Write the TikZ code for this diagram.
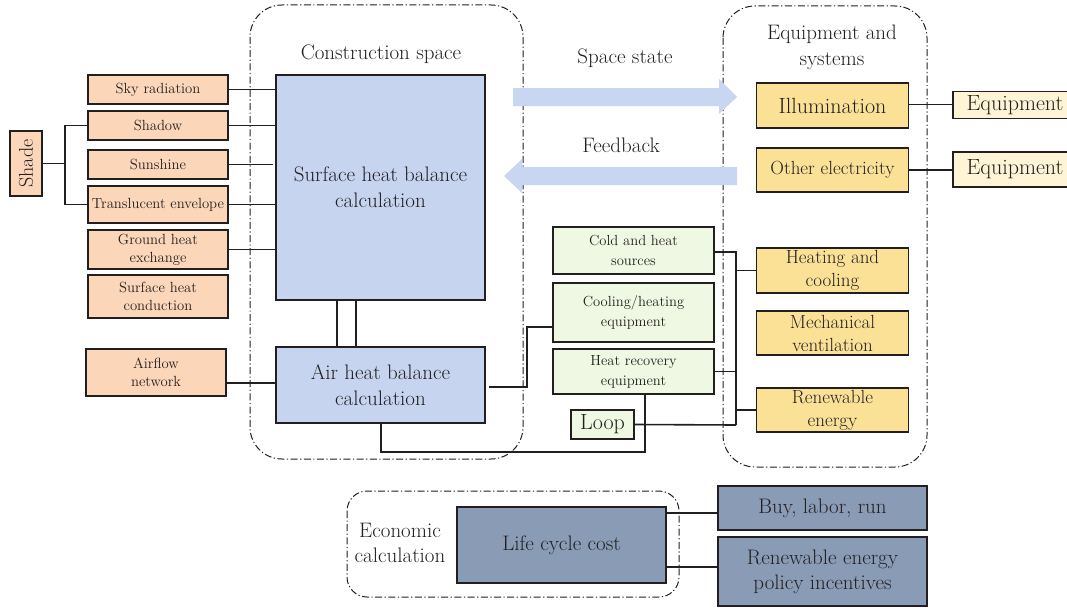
\documentclass[tikz,border=0pt]{standalone}
\usetikzlibrary{calc}
\definecolor{peach}{RGB}{252,214,184}
\definecolor{lblue}{RGB}{198,212,240}
\definecolor{arrblue}{RGB}{200,214,242}
\definecolor{gold}{RGB}{251,225,150}
\definecolor{cream}{RGB}{255,245,214}
\definecolor{lgreen}{RGB}{238,248,226}
\definecolor{slate}{RGB}{138,155,182}
\definecolor{edge}{RGB}{35,31,32}
\begin{document}
\begin{tikzpicture}[x=1pt,y=-1pt,
  box/.style={draw=edge,line width=1.3pt,inner sep=1pt,align=center,text=edge},
  pbox/.style={box,fill=peach,font=\fontsize{14.7}{18}\selectfont},
  bbox/.style={box,fill=lblue,font=\fontsize{21}{26}\selectfont},
  gbox/.style={box,fill=lgreen,font=\fontsize{14.6}{20}\selectfont},
  ybox/.style={box,fill=gold,font=\fontsize{19}{23}\selectfont},
  cbox/.style={box,fill=cream,font=\fontsize{22}{24}\selectfont},
  sbox/.style={box,fill=slate,font=\fontsize{21}{25}\selectfont},
  cont/.style={draw=edge,line width=1pt,dash pattern=on 7pt off 2.5pt on 1.2pt off 2.5pt,rounded corners=32pt},
  lbl/.style={font=\fontsize{21}{26}\selectfont,align=center,text=edge},
  wire/.style={draw=edge,line width=1.2pt},
  bigarrow/.style={fill=arrblue,draw=none}]
\useasboundingbox (0,0) rectangle (1067,610);
% containers
\draw[cont] (250,5) rectangle (523,459);
\draw[cont] (723,6) rectangle (927,467);
\draw[cont,rounded corners=20pt] (347,491) rectangle (679,597);
\node[lbl] (tcons) at (381,54) {Construction space};
\node[lbl] (tequip) at (832,47) {Equipment and\\systems};
\node[lbl,font=\fontsize{21}{25}\selectfont] (tecon) at (400,543) {Economic\\calculation};
\node[lbl] (tss) at (625,58) {Space state};
\node[lbl] (tfb) at (621,145) {Feedback};
% big arrows
\fill[bigarrow] (513,88) -- (719,88) -- (719,79) -- (737,97) -- (719,114) -- (719,106) -- (513,106) -- cycle;
\fill[bigarrow] (737,167) -- (522,167) -- (522,159) -- (504,176) -- (522,193) -- (522,185) -- (737,185) -- cycle;
% left peach boxes
\node[pbox,minimum width=140pt,minimum height=29pt] (sky) at (158,89.5) {Sky radiation};
\node[pbox,minimum width=140pt,minimum height=29pt] (shadow) at (158,125.5) {Shadow};
\node[pbox,minimum width=140pt,minimum height=29pt] (sun) at (158,164.5) {Sunshine};
\node[pbox,minimum width=140pt,minimum height=37pt] (trans) at (158,204.5) {Translucent envelope};
\node[pbox,minimum width=140pt,minimum height=39pt] (ground) at (158,249.5) {Ground heat\\exchange};
\node[pbox,minimum width=140pt,minimum height=43pt] (cond) at (158,296.5) {Surface heat\\conduction};
\node[pbox,minimum width=140pt,minimum height=47pt] (airflow) at (156,372.5) {Airflow\\network};
\node[pbox,minimum width=32pt,minimum height=65pt] (shade) at (26,163.5) {};
\node[rotate=90,font=\fontsize{20}{22}\selectfont,text=edge] (shadetxt) at (shade.center) {Shade};
% blue boxes
\node[bbox,minimum width=209pt,minimum height=225pt] (surf) at (380.5,187.5) {Surface heat balance\\calculation};
\node[bbox,minimum width=209pt,minimum height=76pt] (air) at (380.5,385) {Air heat balance\\calculation};
% green boxes
\node[gbox,minimum width=161pt,minimum height=47pt] (cold) at (633.5,250.5) {Cold and heat\\sources};
\node[gbox,minimum width=161pt,minimum height=59pt] (cool) at (633.5,312.5) {Cooling/heating\\equipment};
\node[gbox,minimum width=161pt,minimum height=45pt] (hrec) at (633.5,371.5) {Heat recovery\\equipment};
\node[gbox,minimum width=63pt,minimum height=29pt,font=\fontsize{22}{24}\selectfont] (loop) at (602.5,424.5) {Loop};
% yellow boxes
\node[ybox,minimum width=152pt,minimum height=45pt,font=\fontsize{22}{24}\selectfont] (illum) at (832.5,105.5) {Illumination};
\node[ybox,minimum width=152pt,minimum height=44pt] (other) at (832.5,170) {Other electricity};
\node[ybox,minimum width=152pt,minimum height=45pt] (heat) at (832.5,270.5) {Heating and\\cooling};
\node[ybox,minimum width=152pt,minimum height=44pt] (mech) at (832.5,333) {Mechanical\\ventilation};
\node[ybox,minimum width=152pt,minimum height=44pt] (renew) at (832.5,410) {Renewable\\energy};
% equipment boxes
\node[cbox,minimum width=124pt,minimum height=27pt] (eq1) at (1015,105) {Equipment};
\node[cbox,minimum width=124pt,minimum height=35pt] (eq2) at (1015,169.5) {Equipment};
% economic boxes
\node[sbox,minimum width=209pt,minimum height=76pt] (lcc) at (561.5,545) {Life cycle cost};
\node[sbox,minimum width=209pt,minimum height=44pt] (buy) at (822.5,508) {Buy, labor, run};
\node[sbox,minimum width=209pt,minimum height=69pt] (pol) at (822.5,571.5) {Renewable energy\\policy incentives};
% connectors left
\draw[wire] (sky.east) -- (sky.east -| surf.west);
\draw[wire] (shadow.east) -- (shadow.east -| surf.west);
\draw[wire] (sun.east) -- ([xshift=-2pt]sun.east -| surf.west);
\draw[wire] (trans.east) -- (trans.east -| surf.west);
\draw[wire] (ground.east) -- (ground.east -| surf.west);
\draw[wire] ([yshift=-10.5pt]airflow.east) -- ([yshift=-10.5pt]airflow.east -| air.west);
\coordinate (sj) at (65,163.5);
\draw[wire] (shade.east) -- (sj);
\draw[wire] (shadow.west) -| (sj) |- (trans.west);
% surface to air
\draw[wire] ([xshift=-43.5pt]surf.south) -- ([xshift=-43.5pt]air.north);
\draw[wire] ([xshift=-24.5pt]surf.south) -- ([xshift=-24.5pt]air.north);
% air to cooling
\coordinate (ac) at (527,387);
\draw[wire] ([yshift=-2pt,xshift=3pt]air.east) -- (ac) |- ([yshift=-14.5pt]cool.west);
% bus
\coordinate (bt) at (736,252);
\coordinate (bb) at (736,425);
\draw[wire] ([yshift=-1.5pt]cold.east) -- (bt) -- (bb);
\draw[wire] (hrec.east) -- (hrec.east -| bt);
\draw[wire,line width=1.6pt] (loop.east) -- (bb);
\draw[wire] (heat.west -| bt) -- (heat.west);
\draw[wire] (renew.west -| bt) -- (renew.west);
% air bottom loop
\coordinate (ab) at (381,452);
\coordinate (hb) at (645,452);
\draw[wire] (air.south -| ab) -- (ab) -- (hb) -- (hrec.south -| hb);
% equipment links
\draw[wire] ([yshift=1pt]illum.east) -- ([yshift=1pt]illum.east -| eq1.west);
\draw[wire] (other.east) -- (other.east -| eq2.west);
% economic links
\draw[wire] ([yshift=32pt]lcc.east) -- ([yshift=32pt]lcc.east -| buy.west);
\draw[wire] ([yshift=-22pt]lcc.east) -- ([yshift=-22pt]lcc.east -| pol.west);
\end{tikzpicture}
\end{document}
